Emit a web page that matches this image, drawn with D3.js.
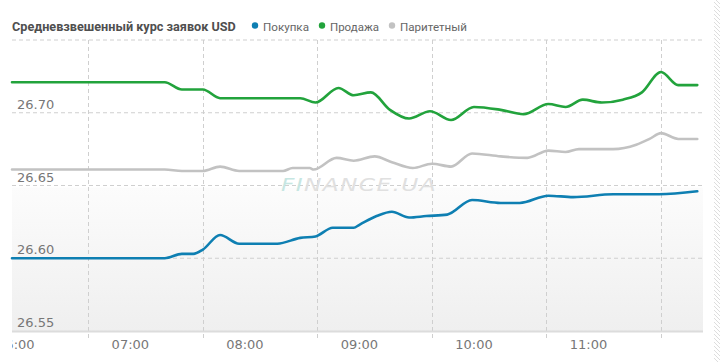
<!DOCTYPE html>
<html><head><meta charset="utf-8">
<script src="https://cdn.jsdelivr.net/npm/d3@7"></script>
<style>html,body{margin:0;padding:0;background:#fff;overflow:hidden}</style>
</head><body><svg id="c" width="720" height="362"></svg>
<script>
const title = "Средневзвешенный курс заявок USD";
const seriesNames = ["Покупка", "Продажа", "Паритетный"];
const seriesColors = ["#0e7fb2", "#22a33c", "#c2c2c2"];
const yTicks = [26.55, 26.60, 26.65, 26.70];
const xTickLabels = ["06:00", "07:00", "08:00", "09:00", "10:00", "11:00"];
const gridTimes = ["06:38", "07:38", "08:38", "09:38", "10:38", "11:38"];

const buy = [
  ["05:58",26.600],["07:18",26.600],["07:27",26.603],["07:33",26.603],["07:38",26.606],
  ["07:47",26.616],["07:57",26.610],["08:17",26.610],["08:29",26.614],["08:37",26.615],
  ["08:46",26.621],["08:57",26.621],["09:00",26.623],["09:09",26.629],["09:17",26.632],
  ["09:26",26.628],["09:35",26.629],["09:46",26.630],["09:59",26.640],["10:14",26.638],
  ["10:24",26.638],["10:39",26.643],["10:52",26.642],["11:13",26.644],["11:37",26.644],
  ["11:57",26.646]
];
const sell = [
  ["05:58",26.721],["07:18",26.721],["07:27",26.716],["07:38",26.716],["07:47",26.710],
  ["08:29",26.710],["08:37",26.707],["08:49",26.717],["08:57",26.712],["09:06",26.714],
  ["09:16",26.702],["09:26",26.696],["09:37",26.701],["09:48",26.695],["10:00",26.704],
  ["10:14",26.702],["10:26",26.699],["10:39",26.706],["10:48",26.704],["10:57",26.709],
  ["11:07",26.707],["11:18",26.709],["11:28",26.714],["11:38",26.728],["11:47",26.719],
  ["11:57",26.719]
];
const parity = [
  ["05:58",26.661],["07:18",26.661],["07:27",26.660],["07:38",26.660],["07:47",26.663],
  ["07:57",26.660],["08:20",26.660],["08:25",26.662],["08:34",26.662],["08:36",26.661],
  ["08:48",26.669],["08:57",26.667],["09:08",26.670],["09:17",26.666],["09:28",26.662],
  ["09:38",26.665],["09:48",26.663],["09:59",26.672],["10:14",26.670],["10:28",26.669],
  ["10:39",26.674],["10:48",26.673],["10:55",26.675],["11:13",26.675],["11:25",26.678],
  ["11:32",26.682],["11:38",26.686],["11:47",26.682],["11:57",26.682]
];
const seriesData = [buy, sell, parity];

const parse = d3.timeParse("%H:%M");
const svg = d3.select("#c");
const L = 12, R = 703, T = 40, B = 331;

const x = d3.scaleTime().domain([parse("05:58"), parse("12:00")]).range([L, R]);
const y = d3.scaleLinear().domain([26.55, 26.75]).range([B, T]);

const defs = svg.append("defs");
const grad = defs.append("linearGradient").attr("id","bg").attr("x1",0).attr("x2",0).attr("y1",0).attr("y2",1);
grad.append("stop").attr("offset","0%").attr("stop-color","#fcfcfc");
grad.append("stop").attr("offset","100%").attr("stop-color","#efefef");
const hatch = defs.append("pattern").attr("id","hatch").attr("patternUnits","userSpaceOnUse")
  .attr("width",4).attr("height",4);
hatch.append("path").attr("d","M0,0 L4,4").attr("stroke","#d4d4d4").attr("stroke-width",0.8);
defs.append("clipPath").attr("id","clipx").append("rect").attr("x",L).attr("y",0).attr("width",720-L).attr("height",362);

svg.append("rect").attr("x",714).attr("y",0).attr("width",6).attr("height",362).attr("fill","url(#hatch)");

svg.append("rect").attr("x",L).attr("y",y(26.65)+2).attr("width",R-L).attr("height",B-y(26.65)-2).attr("fill","url(#bg)");

const hLines = [26.60, 26.65, 26.70, 26.75];
svg.append("g").selectAll("line").data(hLines).join("line")
  .attr("x1",L).attr("x2",R).attr("y1",d=>y(d)).attr("y2",d=>y(d))
  .attr("stroke","#cfcfcf").attr("stroke-dasharray","4,3").attr("stroke-width",1);

svg.append("g").selectAll("line").data(gridTimes).join("line")
  .attr("x1",d=>Math.round(x(parse(d)))+0.5).attr("x2",d=>Math.round(x(parse(d)))+0.5)
  .attr("y1",T).attr("y2",B+7)
  .attr("stroke","#cfcfcf").attr("stroke-dasharray","4,3").attr("stroke-width",1);

svg.append("line").attr("x1",L).attr("x2",R).attr("y1",B+0.5).attr("y2",B+0.5)
  .attr("stroke","#dcdcdc").attr("stroke-width",2);

svg.append("g").selectAll("text").data(yTicks).join("text")
  .attr("x",17).attr("y",d=>y(d)-4)
  .attr("font-family","DejaVu Sans, Verdana, sans-serif").attr("font-size",13)
  .attr("fill","#777").text(d=>d.toFixed(2));

svg.append("g").attr("clip-path","url(#clipx)").selectAll("text").data(xTickLabels).join("text")
  .attr("x",d=>x(parse(d))).attr("y",349).attr("text-anchor","middle")
  .attr("font-family","DejaVu Sans, Verdana, sans-serif").attr("font-size",13)
  .attr("fill","#777").text(d=>d);

const wm = svg.append("text").attr("x",281).attr("y",191)
  .attr("font-family","DejaVu Sans, sans-serif").attr("font-size",17).attr("font-style","italic")
  .attr("textLength",156).attr("lengthAdjust","spacingAndGlyphs").attr("letter-spacing",1);
wm.append("tspan").attr("fill","#c6e6e2").text("FI");
wm.append("tspan").attr("fill","#e0e0e0").text("NANCE.UA");

const line = d3.line().x(d=>x(parse(d[0]))).y(d=>y(d[1])).curve(d3.curveMonotoneX);
svg.append("g").selectAll("path").data([2,1,0]).join("path")
  .attr("d",i=>line(seriesData[i])).attr("fill","none")
  .attr("stroke",i=>seriesColors[i]).attr("stroke-width",2.6)
  .attr("stroke-linejoin","round").attr("stroke-linecap","round");

// fit a text's natural width to a target by scaling its font size
function fitWidth(sel, target){
  sel.each(function(){
    const fs = parseFloat(this.getAttribute("font-size"));
    const len = this.getComputedTextLength();
    const t = typeof target === "function" ? target.apply(this, arguments) : target;
    if (len > 0) this.setAttribute("font-size", (fs * t / len).toFixed(2));
  });
}

const tt = svg.append("text").attr("x",12).attr("y",31)
  .attr("font-family","Roboto, Open Sans, sans-serif").attr("font-weight","bold")
  .attr("font-size",14).attr("fill","#4f4f4f").text(title);
fitWidth(tt, 224);

const legX = [255, 322, 392];
const legW = [46, 49, 67];
const lg = svg.append("g").selectAll("g").data(seriesNames).join("g");
lg.append("circle").attr("cx",(d,i)=>legX[i]).attr("cy",25.5).attr("r",3.2).attr("fill",(d,i)=>seriesColors[i]);
const lt = lg.append("text").attr("x",(d,i)=>legX[i]+8).attr("y",31)
  .attr("font-family","Roboto, Open Sans, sans-serif").attr("font-size",13.5)
  .attr("fill","#666").text(d=>d);
lt.each(function(d,i){ fitWidth(d3.select(this), legW[i]); });
</script></body></html>
